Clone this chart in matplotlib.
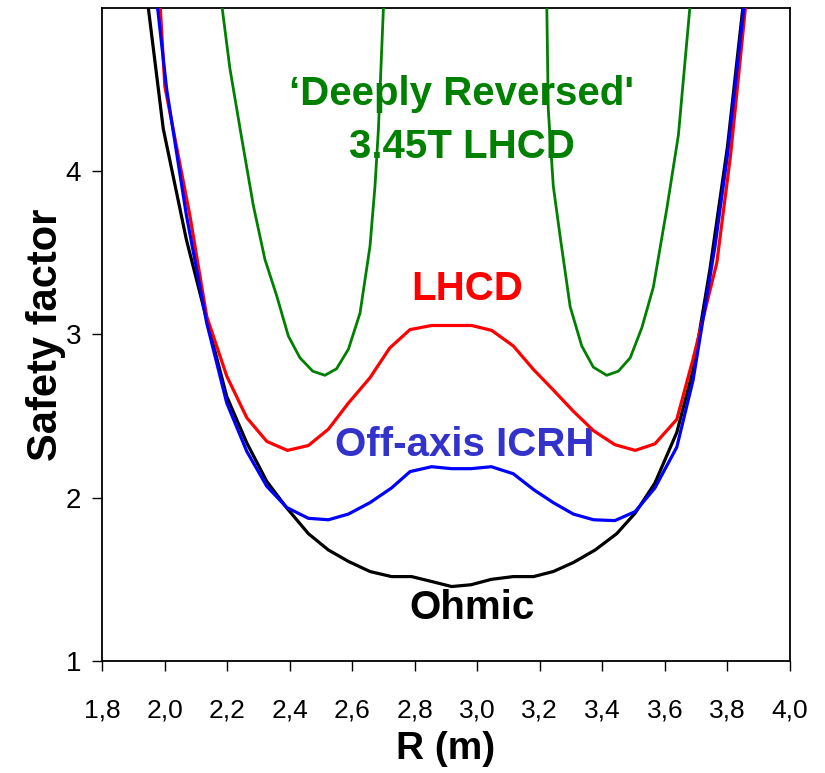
import matplotlib
matplotlib.use("Agg")
import matplotlib.pyplot as plt

plt.rcParams['font.family'] = ['Liberation Sans', 'DejaVu Sans']

# q profiles vs major radius
r_ohmic = [1.945, 1.996, 2.07, 2.135, 2.199, 2.263, 2.327, 2.391, 2.46, 2.524, 2.588, 2.657,
           2.726, 2.79, 2.854, 2.918, 2.98, 3.045, 3.115, 3.18, 3.243, 3.307, 3.377, 3.446,
           3.505, 3.568, 3.638, 3.69, 3.744, 3.80, 3.852]
q_ohmic = [5.05, 4.26, 3.58, 3.09, 2.62, 2.336, 2.10, 1.937, 1.78, 1.68, 1.61, 1.548,
           1.517, 1.517, 1.487, 1.456, 1.467, 1.50, 1.517, 1.517, 1.548, 1.603, 1.68, 1.78,
           1.906, 2.09, 2.40, 2.78, 3.40, 4.15, 5.05]

r_icrh = [1.975, 2.007, 2.07, 2.135, 2.199, 2.263, 2.327, 2.391, 2.46, 2.524, 2.588, 2.657,
          2.726, 2.785, 2.854, 2.918, 2.98, 3.045, 3.115, 3.18, 3.243, 3.307, 3.372, 3.44,
          3.505, 3.568, 3.638, 3.69, 3.76, 3.80, 3.855]
q_icrh = [5.05, 4.50, 3.73, 3.07, 2.58, 2.284, 2.07, 1.94, 1.874, 1.865, 1.90, 1.97,
          2.06, 2.16, 2.19, 2.178, 2.178, 2.19, 2.147, 2.05, 1.97, 1.90, 1.865, 1.86,
          1.915, 2.06, 2.31, 2.72, 3.54, 4.10, 5.05]

r_lhcd = [1.985, 2.001, 2.081, 2.135, 2.199, 2.263, 2.327, 2.393, 2.46, 2.524, 2.588, 2.657,
          2.72, 2.785, 2.854, 2.918, 2.982, 3.046, 3.115, 3.18, 3.243, 3.307, 3.372, 3.44,
          3.505, 3.568, 3.638, 3.69, 3.766, 3.81, 3.86]
q_lhcd = [5.05, 4.52, 3.73, 3.11, 2.745, 2.49, 2.345, 2.29, 2.32, 2.42, 2.58, 2.735,
          2.917, 3.03, 3.055, 3.055, 3.055, 3.025, 2.93, 2.785, 2.66, 2.53, 2.41, 2.325,
          2.29, 2.33, 2.48, 2.85, 3.44, 4.10, 5.05]

# deeply reversed case: two branches, the core goes off scale
r_drev_in = [2.181, 2.209, 2.247, 2.284, 2.321, 2.359, 2.396, 2.433, 2.474, 2.513, 2.55,
             2.588, 2.625, 2.657, 2.673, 2.684, 2.701]
q_drev_in = [5.05, 4.63, 4.20, 3.79, 3.46, 3.235, 2.99, 2.857, 2.775, 2.75, 2.79,
             2.91, 3.13, 3.54, 3.91, 4.26, 5.05]
r_drev_out = [3.222, 3.227, 3.243, 3.265, 3.297, 3.334, 3.371, 3.414, 3.451, 3.489, 3.526,
              3.563, 3.606, 3.643, 3.682]
q_drev_out = [5.05, 4.38, 3.91, 3.60, 3.17, 2.93, 2.80, 2.75, 2.775, 2.857, 3.04,
              3.29, 3.77, 4.22, 5.05]

x_ticks = [1.8, 2.0, 2.2, 2.4, 2.6, 2.8, 3.0, 3.2, 3.4, 3.6, 3.8, 4.0]
y_ticks = [1, 2, 3, 4]

fig = plt.figure(figsize=(8.25, 7.73), dpi=100)
ax = fig.add_axes([0.1236, 0.1449, 0.834, 0.8448])

green = '#008000'
ax.plot(r_drev_in, q_drev_in, color=green, lw=2.0, zorder=3)
ax.plot(r_drev_out, q_drev_out, color=green, lw=2.0, zorder=3)
ax.plot(r_ohmic, q_ohmic, color='black', lw=2.3, zorder=3)
ax.plot(r_lhcd, q_lhcd, color='#ff0000', lw=2.3, zorder=4)
ax.plot(r_icrh, q_icrh, color='#0000ff', lw=2.3, zorder=5)

kw = dict(ha='center', va='center', fontsize=29, fontweight='bold', zorder=2)
ax.text(2.951, 4.47, "\u2018Deeply Reversed'", color=green, **kw)
ax.text(2.951, 4.15, "3.45T LHCD", color=green, **kw)
ax.text(2.967, 3.28, "LHCD", color='#ff0000', **kw)
ax.text(2.961, 2.325, "Off-axis ICRH", color='#3333cc', **kw)
ax.text(2.983, 1.325, "Ohmic", color='black', **kw)

ax.set_xlim(1.8, 4.0)
ax.set_ylim(1, 5)
ax.set_xticks(x_ticks)
ax.set_xticklabels([f"{v:.1f}".replace('.', ',') for v in x_ticks])
ax.set_yticks(y_ticks)
ax.tick_params(axis='both', direction='out', length=7, width=1)
ax.tick_params(axis='x', labelsize=19, pad=20)
ax.tick_params(axis='y', labelsize=20, pad=8)
for s in ax.spines.values():
    s.set_linewidth(1.3)

ax.set_xlabel("R (m)", fontsize=28, fontweight='bold', labelpad=6)
ax.set_ylabel("Safety factor", fontsize=30, fontweight='bold', labelpad=0)

fig.savefig("out.png", dpi=100)
